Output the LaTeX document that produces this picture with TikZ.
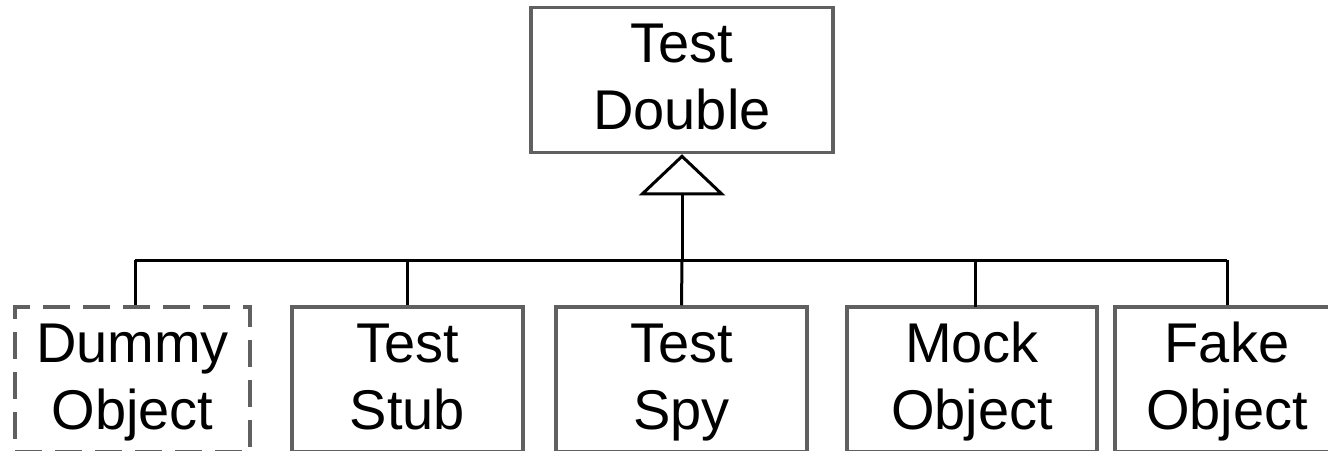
\documentclass[tikz,border=0pt]{standalone}
\usepackage{fontspec}
\setmainfont{Liberation Sans}
\usetikzlibrary{arrows.meta}
\begin{document}
\begin{tikzpicture}[x=1pt,y=-1pt,
  cls/.style={draw={rgb,255:red,96;green,96;blue,96}, line width=3.5pt, fill=white,
    inner sep=0pt, minimum height=145pt, align=center,
    text height=107pt, text depth=8pt,
    font=\fontsize{56}{67}\selectfont},
  dummybox/.style={cls, dash pattern=on 27pt off 13pt},
  link/.style={draw=black, line width=3pt},
  inherit/.style={link, -{Triangle[open, length=41pt, width=86pt, line width=3pt]}}]
  \useasboundingbox (0,0) rectangle (1328,450);
  % abstract parent class
  \node[cls, minimum width=302pt, minimum height=145pt] (double) at (682,80) {Test\\Double};
  % concrete test doubles
  \node[dummybox, minimum width=235pt] (dummy) at (132.5,379.5) {Dummy\\Object};
  \node[cls, minimum width=231pt] (stub) at (407.5,379.5) {Test\\Stub};
  \node[cls, minimum width=251pt] (spy)  at (681.5,379.5) {Test\\Spy};
  \node[cls, minimum width=250pt] (mock) at (972,379.5) {Mock\\Object};
  \node[cls, minimum width=224pt] (fake) at (1227,379.5) {Fake\\Object};
  % shared bus of the generalisation tree
  \coordinate (hub) at (682,260);
  \coordinate (busL) at (135,260);
  \coordinate (busR) at (1227,260);
  \draw[link] (busL) -- (busR);
  \draw[link] (busL) -- (busL |- dummy.north);
  \draw[link] (stub.north |- hub) -- (stub.north);
  \draw[link] (hub) -- (spy.north);
  \draw[link] (975,260) -- (975,307);
  \draw[link] (busR) -- (fake.north);
  \draw[inherit] (hub) -- (double.south);
\end{tikzpicture}
\end{document}
